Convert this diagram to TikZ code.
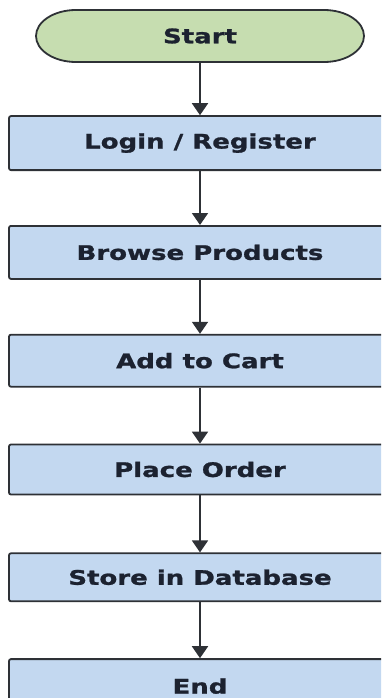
\documentclass[tikz,border=0pt]{standalone}
\usepackage{fontspec}
\newfontfamily\flowfont{DejaVu Sans}[FakeStretch=1.3, FakeBold=1.2]
\usetikzlibrary{positioning,arrows.meta}
\definecolor{boxblue}{HTML}{C3D8F0}
\definecolor{termgreen}{HTML}{C6DDB0}
\definecolor{edgegray}{HTML}{2E3136}
\definecolor{inkdark}{HTML}{1C2230}
\tikzset{
  x=1pt, y=1pt,
  flownode/.style = {align=center, inner sep=0pt, text centered, text=inkdark,
    font=\flowfont\bfseries\fontsize{20}{22}\selectfont},
  fl_box/.style = {flownode, rectangle, draw=edgegray, line width=1.8pt, rounded corners=2pt,
    fill=boxblue, minimum width=382pt, minimum height=#1},
  fl_box/.default = 53pt,
  fl_term/.style = {flownode, minimum width=328pt, minimum height=52pt},
  fl_edge/.style = {draw=edgegray, fill=termgreen, line width=1.8pt},
  fl_arrow/.style = {edgegray, line width=1.8pt, -{Triangle[width=16pt,length=12pt]}}
}

\begin{document}
\begin{tikzpicture}
\clip (0,0) rectangle (381,-698);
\fill[white] (0,0) rectangle (381,-698);
% start terminal
\draw[fl_edge] (76,-10) -- (324,-10) arc[start angle=90, end angle=-90, x radius=40, y radius=26]
	-- (76,-62) arc[start angle=-90, end angle=-270, x radius=40, y radius=26] -- cycle;
\node [fl_term] (start) at (200,-36) {Start};

\node [fl_box=54pt, below=53pt of start] (login) {Login / Register};
\node [fl_box=53pt, below=54pt of login] (browse) {Browse Products};
\node [fl_box=52pt, below=54pt of browse] (cart) {Add to Cart};
\node [fl_box=50pt, below=56pt of cart] (order) {Place Order};
\node [fl_box=48pt, below=57pt of order] (store) {Store in Database};
\node [fl_box=54pt, below=56pt of store] (finish) {End};

\draw [fl_arrow] (start) -- (login);
\draw [fl_arrow] (login) -- (browse);
\draw [fl_arrow] (browse) -- (cart);
\draw [fl_arrow] (cart) -- (order);
\draw [fl_arrow] (order) -- (store);
\draw [fl_arrow] (store) -- (finish);
\end{tikzpicture}
\end{document}
